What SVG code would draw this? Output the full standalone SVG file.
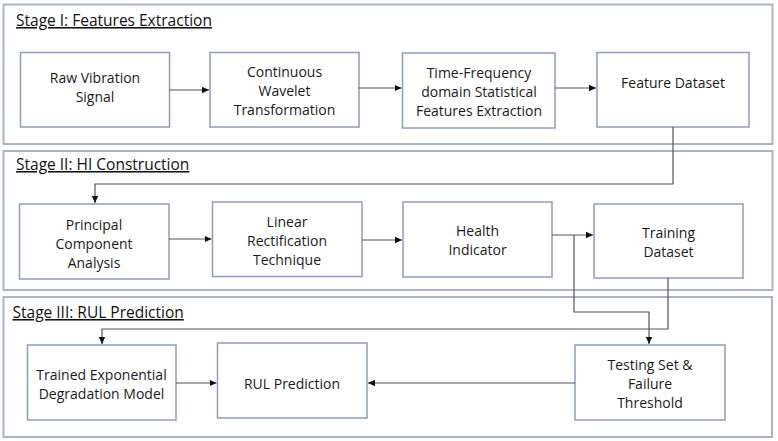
<svg xmlns="http://www.w3.org/2000/svg" width="778" height="441" viewBox="0 0 778 441">
<defs>
<marker id="ah" markerWidth="8" markerHeight="8" refX="7" refY="4" orient="auto" markerUnits="userSpaceOnUse">
<path d="M0,0.8 L7,4 L0,7.2 Z" fill="#111"/>
</marker>
</defs>
<style>
.stage{fill:#fff;stroke:#a9b4c8;stroke-width:2}
.node{fill:#fff;stroke:#8d9dbd;stroke-width:1.5}
.t{font-family:"Open Sans","Liberation Sans",sans-serif;font-size:14px;fill:#1a1a1a;text-anchor:middle}
.h{font-family:"Open Sans","Liberation Sans",sans-serif;font-size:15.5px;fill:#111;text-decoration:underline}
.c{fill:none;stroke:#555;stroke-width:1.2}
.ca{fill:none;stroke:#555;stroke-width:1.2;marker-end:url(#ah)}
</style>
<rect width="778" height="441" fill="#fff"/>
<g id="stage1">
<rect class="stage" x="3.5" y="4.5" width="769" height="139.5"/>
<text class="h" x="16" y="26">Stage I: Features Extraction</text>
</g>
<g id="stage2">
<rect class="stage" x="3.5" y="151" width="769" height="139"/>
<text class="h" x="16" y="170">Stage II: HI Construction</text>
</g>
<g id="stage3">
<rect class="stage" x="3.5" y="297" width="768.5" height="140"/>
<text class="h" x="12.5" y="318">Stage III: RUL Prediction</text>
</g>
<g id="raw"><rect class="node" x="20.5" y="52.5" width="149" height="74.5"/>
<text class="t" x="95" y="83">Raw Vibration</text><text class="t" x="95" y="102">Signal</text></g>
<g id="cwt"><rect class="node" x="210" y="52.5" width="149" height="74.5"/>
<text class="t" x="284.5" y="77">Continuous</text><text class="t" x="284.5" y="96">Wavelet</text><text class="t" x="284.5" y="115">Transformation</text></g>
<g id="tf"><rect class="node" x="402.5" y="53" width="152.5" height="75"/>
<text class="t" x="479" y="78">Time-Frequency</text><text class="t" x="479" y="97">domain Statistical</text><text class="t" x="479" y="116">Features Extraction</text></g>
<g id="fd"><rect class="node" x="597" y="52.5" width="152" height="74.5"/>
<text class="t" x="673" y="88">Feature Dataset</text></g>
<g id="pca"><rect class="node" x="19.5" y="204" width="149.5" height="75"/>
<text class="t" x="94" y="230">Principal</text><text class="t" x="94" y="249">Component</text><text class="t" x="94" y="268">Analysis</text></g>
<g id="lrt"><rect class="node" x="212.5" y="202" width="149.5" height="74.5"/>
<text class="t" x="287" y="227">Linear</text><text class="t" x="287" y="246">Rectification</text><text class="t" x="287" y="265">Technique</text></g>
<g id="hi"><rect class="node" x="403" y="202" width="149" height="75"/>
<text class="t" x="477.5" y="236">Health</text><text class="t" x="477.5" y="255">Indicator</text></g>
<g id="td"><rect class="node" x="594" y="204" width="149" height="74"/>
<text class="t" x="668.5" y="238">Training</text><text class="t" x="668.5" y="257">Dataset</text></g>
<g id="ted"><rect class="node" x="27.5" y="345" width="148.5" height="75"/>
<text class="t" x="101.5" y="380">Trained Exponential</text><text class="t" x="101.5" y="399">Degradation Model</text></g>
<g id="rul"><rect class="node" x="217.5" y="343" width="149.5" height="75"/>
<text class="t" x="292" y="389">RUL Prediction</text></g>
<g id="tst"><rect class="node" x="575" y="345" width="150" height="75"/>
<text class="t" x="650" y="370">Testing Set &amp;</text><text class="t" x="650" y="389">Failure</text><text class="t" x="650" y="408">Threshold</text></g>
<g id="connectors">
<path class="ca" d="M169.5,90 H209"/>
<path class="ca" d="M359,88 H401.5"/>
<path class="ca" d="M555,88 H596"/>
<path class="ca" d="M673,127 V184 H95 V203"/>
<path class="ca" d="M169,239 H211.5"/>
<path class="ca" d="M362,240 H402"/>
<path class="ca" d="M552,235 H593"/>
<path class="ca" d="M574,235 V312 H649 V344"/>
<path class="ca" d="M668,278 V329 H102 V344"/>
<path class="ca" d="M176,383 H216.5"/>
<path class="ca" d="M575,383 H368"/>
</g>
</svg>
